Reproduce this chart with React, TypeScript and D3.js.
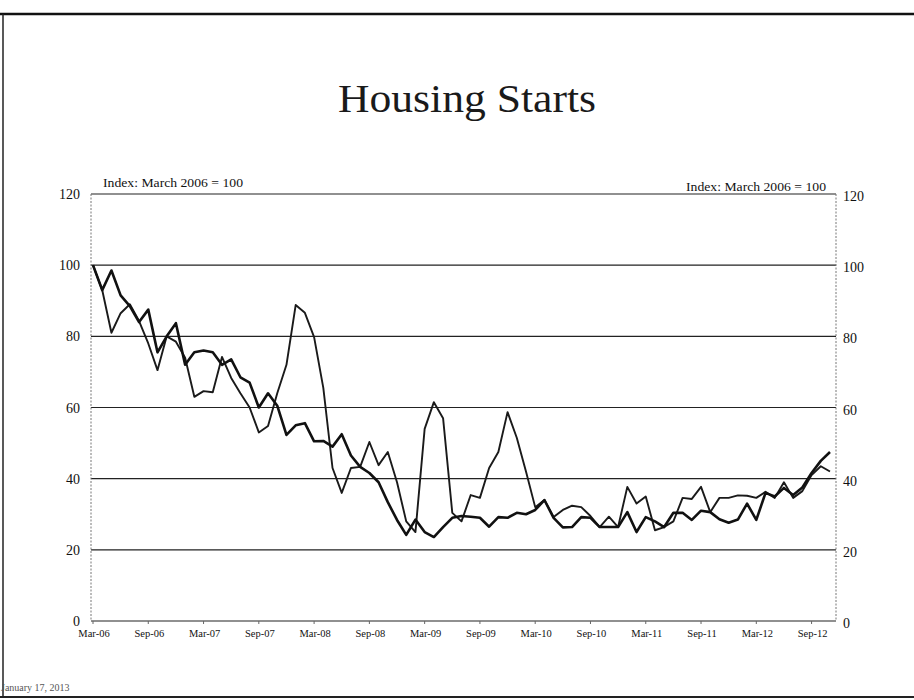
import * as React from "react";
import * as d3 from "d3";

// monthly categories, Mar-06 .. Nov-12
const months = d3
  .timeMonths(new Date(2006, 2, 1), new Date(2012, 11, 1))
  .map(d3.timeFormat("%b-%y"));

const tickLabels = [
  "Mar-06", "Sep-06", "Mar-07", "Sep-07", "Mar-08", "Sep-08", "Mar-09",
  "Sep-09", "Mar-10", "Sep-10", "Mar-11", "Sep-11", "Mar-12", "Sep-12",
];

const yTicks = [0, 20, 40, 60, 80, 100, 120];

// smoother series (heavier line)
const seriesA = [
  100, 93, 98.5, 91.5, 88.5, 84, 87.5, 75.5, 80, 83.7,
  72, 75.5, 76, 75.5, 72, 73.5, 68.5, 67, 60, 64,
  60.5, 52.3, 55, 55.6, 50.5, 50.6, 49, 52.5, 46.5, 43.3,
  41.6, 39, 33.4, 28.4, 24.2, 28.5, 25, 23.6, 26.4, 29,
  29.5, 29.3, 29, 26.5, 29.2, 29, 30.4, 30, 31.2, 34,
  29, 26.3, 26.4, 29.2, 29, 26.4, 26.4, 26.4, 30.6, 25,
  29.2, 28, 26.4, 30.4, 30.4, 28.4, 31, 30.6, 28.6, 27.6,
  28.5, 33, 28.4, 36, 35, 37.4, 35.4, 37.5, 41.6, 45,
  47.5,
];

// spiky series (lighter line)
const seriesB = [
  100, 93, 81, 86.5, 89, 84.3, 78, 70.5, 80, 78.5,
  74, 63, 64.6, 64.3, 74.2, 68.3, 64, 60, 53, 54.8,
  64, 72, 88.8, 86.6, 79.8, 65.5, 43, 36, 43, 43.3,
  50.3, 43.8, 47.5, 39, 28, 25, 54, 61.5, 57, 30.4,
  28, 35.4, 34.6, 43, 47.5, 58.7, 51.5, 42, 32, 34,
  29.2, 31.2, 32.4, 32, 29.5, 26.4, 29.3, 26.4, 37.7, 33,
  35, 25.5, 26.4, 28, 34.6, 34.3, 37.7, 30.6, 34.6, 34.6,
  35.3, 35.2, 34.6, 36.3, 34.6, 39, 34.6, 36.5, 41, 43.5,
  42,
];

const W = 914;
const H = 700;
const serif = "'Liberation Serif', 'DejaVu Serif', serif";

export default function App() {
  const x = d3.scalePoint<string>().domain(months).range([93, 830]);
  const y = d3.scaleLinear().domain([0, 120]).range([621, 194]);
  const left = 91;
  const right = 836;

  const line = d3
    .line<number>()
    .x((_, i) => x(months[i])!)
    .y((d) => y(d));

  return (
    <svg
      width={W}
      height={H}
      style={{ position: "absolute", left: 0, top: 0, background: "#fff" }}
      fontFamily={serif}
    >
      {/* page frame */}
      <line x1={0} x2={W} y1={14} y2={14} stroke="#111" strokeWidth={2.5} />
      <line x1={3} x2={3} y1={14} y2={697} stroke="#222" strokeWidth={1.5} />
      <line x1={0} x2={W} y1={697} y2={697} stroke="#222" strokeWidth={2} />

      <text x={467} y={112} textAnchor="middle" fontSize={40} fill="#1a1a1a" textLength={258} lengthAdjust="spacingAndGlyphs">
        Housing Starts
      </text>

      <text x={103} y={187} fontSize={12} fill="#111" textLength={140} lengthAdjust="spacingAndGlyphs">Index: March 2006 = 100</text>
      <text x={686} y={191} fontSize={12} fill="#111" textLength={140} lengthAdjust="spacingAndGlyphs">Index: March 2006 = 100</text>

      {/* gridlines */}
      {yTicks.map((t) => (
        <line key={t} x1={left} x2={right} y1={y(t)} y2={y(t)} stroke="#222" strokeWidth={1.2} />
      ))}
      <line x1={left} x2={left} y1={y(120)} y2={y(0)} stroke="#777" strokeWidth={1} strokeDasharray="2,1.5" />
      <line x1={right} x2={right} y1={y(120)} y2={y(0)} stroke="#777" strokeWidth={1} strokeDasharray="2,1.5" />

      {/* y tick labels */}
      {yTicks.map((t) => (
        <text key={"l" + t} x={80} y={y(t) + 5} fontSize={14} textAnchor="end" fill="#111">{t}</text>
      ))}
      {yTicks.map((t) => (
        <text key={"r" + t} x={843} y={y(t) + 7} fontSize={14} fill="#111">{t}</text>
      ))}

      {/* x ticks and labels */}
      {tickLabels.map((lab) => (
        <g key={lab}>
          <line x1={x(lab)!} x2={x(lab)!} y1={y(0)} y2={y(0) + 3} stroke="#666" strokeWidth={1} />
          <text x={x(lab)! + 1} y={637} fontSize={10.5} textAnchor="middle" fill="#111">{lab}</text>
        </g>
      ))}

      <path d={line(seriesB)!} fill="none" stroke="#1a1a1a" strokeWidth={1.9} strokeLinejoin="round" />
      <path d={line(seriesA)!} fill="none" stroke="#111" strokeWidth={2.6} strokeLinejoin="round" />

      <text x={1} y={691} fontSize={10} fill="#555">January 17, 2013</text>
    </svg>
  );
}
